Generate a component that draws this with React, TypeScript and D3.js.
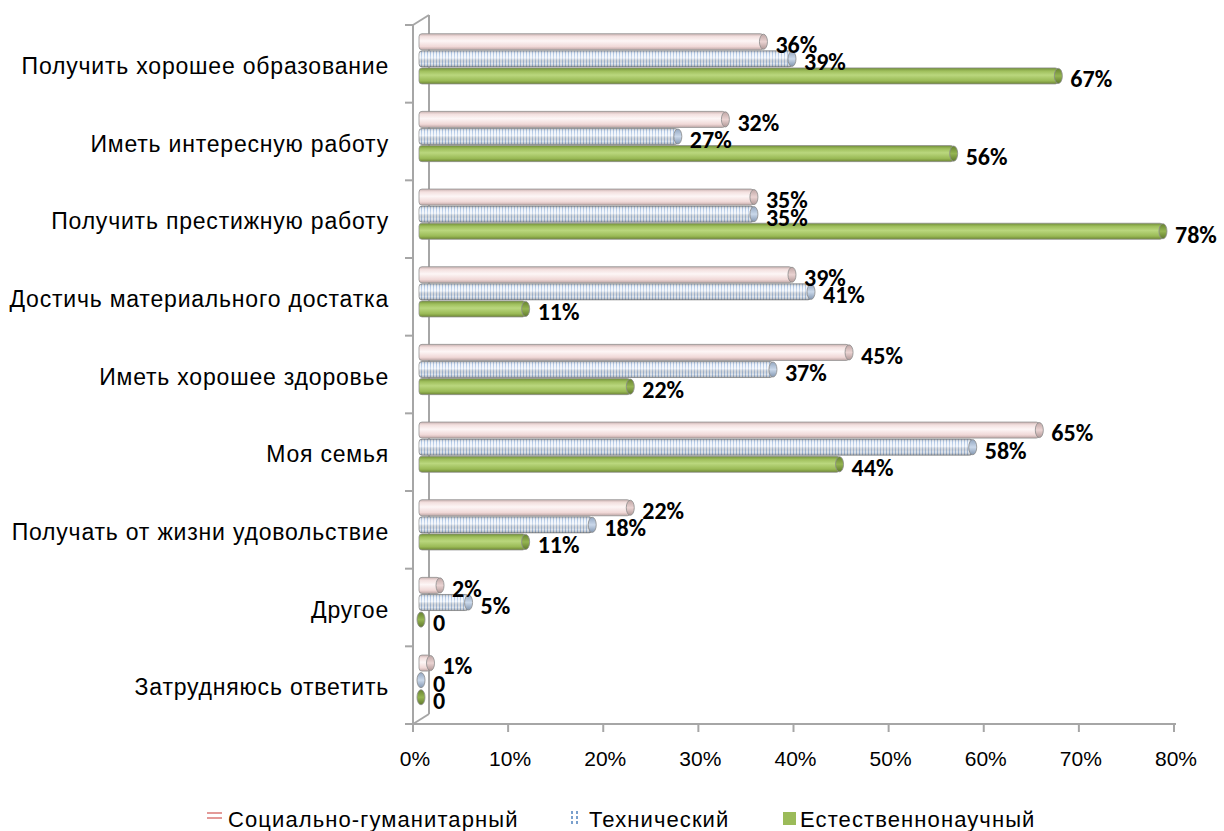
import React from 'react';
import * as d3 from 'd3';

const categories = [
  'Получить хорошее образование',
  'Иметь интересную работу',
  'Получить престижную работу',
  'Достичь материального достатка',
  'Иметь хорошее здоровье',
  'Моя семья',
  'Получать от жизни удовольствие',
  'Другое',
  'Затрудняюсь ответить',
];

const seriesNames = ['Социально-гуманитарный', 'Технический', 'Естественнонаучный'];

const socialValues = [36, 32, 35, 39, 45, 65, 22, 2, 1];
const techValues = [39, 27, 35, 41, 37, 58, 18, 5, 0];
const naturalValues = [67, 56, 78, 11, 22, 44, 11, 0, 0];

const xTicks = [0, 10, 20, 30, 40, 50, 60, 70, 80];

const W = 1224;
const H = 831;
const depthX = 16;
const depthY = -10;

const axisColor = '#a6a6a6';

const App: React.FC = () => {
  const x = d3.scaleLinear().domain([0, 80]).range([413, 1174]);
  const y = d3.scaleBand<string>().domain(categories).range([25, 724]);
  const groupH = y.bandwidth() * 0.66;
  const inner = d3.scaleBand<number>().domain([0, 1, 2]).range([0, groupH]);
  const barH = inner.bandwidth();
  const x0 = x(0) + depthX / 2 - 2;

  const allSeries = [socialValues, techValues, naturalValues];
  const fills = ['url(#gPink)', 'url(#stripes)', 'url(#gGreen)'];
  const capFills = ['url(#gPinkCap)', 'url(#gBlueCap)', 'url(#gGreenCap)'];

  const bottom = y.range()[1];
  const top = y.range()[0];

  return (
    <svg width={W} height={H} style={{ position: 'absolute', left: 0, top: 0, background: '#fff' }}>
      <defs>
        <linearGradient id="gPink" x1="0" y1="0" x2="0" y2="1">
          <stop offset="0" stopColor="#c9b1b0" />
          <stop offset="0.18" stopColor="#f3e0df" />
          <stop offset="0.45" stopColor="#fdf6f6" />
          <stop offset="0.8" stopColor="#f0d8d7" />
          <stop offset="1" stopColor="#bda5a4" />
        </linearGradient>
        <linearGradient id="gPinkCap" x1="0" y1="0" x2="0" y2="1">
          <stop offset="0" stopColor="#bfa6a5" />
          <stop offset="0.5" stopColor="#ead3d2" />
          <stop offset="1" stopColor="#b09796" />
        </linearGradient>
        <pattern id="stripes" width="3" height="3" patternUnits="userSpaceOnUse">
          <rect width="3" height="3" fill="#eef3fa" />
          <rect x="1" width="1" height="3" fill="#aac3e4" />
        </pattern>
        <linearGradient id="gShade" x1="0" y1="0" x2="0" y2="1">
          <stop offset="0" stopColor="#000" stopOpacity="0.25" />
          <stop offset="0.2" stopColor="#fff" stopOpacity="0.1" />
          <stop offset="0.45" stopColor="#fff" stopOpacity="0.45" />
          <stop offset="0.8" stopColor="#000" stopOpacity="0.05" />
          <stop offset="1" stopColor="#000" stopOpacity="0.28" />
        </linearGradient>
        <linearGradient id="gBlueCap" x1="0" y1="0" x2="0" y2="1">
          <stop offset="0" stopColor="#93a7c1" />
          <stop offset="0.5" stopColor="#cad8ea" />
          <stop offset="1" stopColor="#8397b1" />
        </linearGradient>
        <linearGradient id="gGreen" x1="0" y1="0" x2="0" y2="1">
          <stop offset="0" stopColor="#718e38" />
          <stop offset="0.2" stopColor="#9fbf5c" />
          <stop offset="0.45" stopColor="#bad77e" />
          <stop offset="0.8" stopColor="#9aba56" />
          <stop offset="1" stopColor="#6d8534" />
        </linearGradient>
        <linearGradient id="gGreenCap" x1="0" y1="0" x2="0" y2="1">
          <stop offset="0" stopColor="#66822f" />
          <stop offset="0.5" stopColor="#95b552" />
          <stop offset="1" stopColor="#60792c" />
        </linearGradient>
      </defs>

      {/* walls / axes */}
      <g stroke={axisColor} strokeWidth={2} fill="none">
        <line x1={x(0)} y1={top} x2={x(0)} y2={bottom} />
        <line x1={x(0) + depthX} y1={top + depthY} x2={x(0) + depthX} y2={bottom + depthY} />
        <line x1={x(0)} y1={top} x2={x(0) + depthX} y2={top + depthY} />
        <line x1={x(0)} y1={bottom} x2={x(0) + depthX} y2={bottom + depthY} />
        <line x1={x(0)} y1={bottom} x2={x(80) + 2} y2={bottom} />
        {d3.range(categories.length + 1).map(i => {
          const yy = top + i * y.step();
          return <line key={i} x1={x(0) - 8} y1={yy} x2={x(0)} y2={yy} />;
        })}
        {xTicks.map(t => (
          <line key={t} x1={x(t)} y1={bottom} x2={x(t)} y2={bottom + 8} />
        ))}
      </g>

      {/* bars */}
      {categories.map((c, ci) => {
        const gTop = (y(c) as number) + (y.bandwidth() - groupH) / 2 + depthY / 2;
        return (
          <g key={c}>
            {allSeries.map((vals, si) => {
              const v = vals[ci];
              const by = gTop + (inner(si) as number);
              const x1 = x(v) + depthX / 2;
              return (
                <g key={si}>
                  {v > 0 && (
                    <>
                      <rect x={x0} y={by + 0.5} width={x1 - x0} height={barH - 1} rx={3}
                        fill={fills[si]} stroke="#8f8f8f" strokeOpacity={0.75} strokeWidth={1} />
                      {si === 1 && (
                        <rect x={x0} y={by + 0.5} width={x1 - x0} height={barH - 1} rx={3} fill="url(#gShade)" />
                      )}
                    </>
                  )}
                  <ellipse cx={x1} cy={by + barH / 2} rx={4} ry={barH / 2 - 1}
                    fill={capFills[si]} stroke="#8a8a8a" strokeWidth={0.8} />
                </g>
              );
            })}
          </g>
        );
      })}

      {/* data labels */}
      <g fontFamily="Carlito, Lato, 'Liberation Sans', sans-serif" fontWeight="bold" fontSize={24} fill="#000">
        {categories.map((c, ci) => {
          const gTop = (y(c) as number) + (y.bandwidth() - groupH) / 2 + depthY / 2;
          return allSeries.map((vals, si) => {
            const v = vals[ci];
            const by = gTop + (inner(si) as number);
            return (
              <text key={c + si} x={x(v) + depthX / 2 + 12} y={by + barH / 2 + 3} dy="0.35em">
                {v === 0 ? '0' : `${v}%`}
              </text>
            );
          });
        })}
      </g>

      {/* category labels */}
      <g fontFamily="'Liberation Sans', Arial, sans-serif" fontSize={23} letterSpacing={0.8} fill="#000" textAnchor="end">
        {categories.map(c => (
          <text key={c} x={389} y={(y(c) as number) + y.bandwidth() / 2 + 2} dy="0.35em">{c}</text>
        ))}
      </g>

      {/* x tick labels */}
      <g fontFamily="'Liberation Sans', Arial, sans-serif" fontSize={21} fill="#000" textAnchor="middle">
        {xTicks.map(t => (
          <text key={t} x={x(t) + 2} y={759} dy="0.35em">{`${t}%`}</text>
        ))}
      </g>

      {/* legend */}
      <g>
        <line x1={207} y1={813} x2={222} y2={813} stroke="#e39a98" strokeWidth={2} />
        <line x1={207} y1={818} x2={222} y2={818} stroke="#e39a98" strokeWidth={2} />
        <line x1={572} y1={811} x2={572} y2={826} stroke="#4f81bd" strokeWidth={1.5} strokeDasharray="3,2" />
        <line x1={577} y1={811} x2={577} y2={826} stroke="#4f81bd" strokeWidth={1.5} strokeDasharray="3,2" />
        <rect x={783} y={812} width={13} height={13} fill="#9bbb59" />
        <g fontFamily="'Liberation Sans', Arial, sans-serif" fontSize={22} letterSpacing={1.1} fill="#000">
          <text x={228} y={827}>{seriesNames[0]}</text>
          <text x={589} y={827}>{seriesNames[1]}</text>
          <text x={800} y={827}>{seriesNames[2]}</text>
        </g>
      </g>
    </svg>
  );
};

export default App;
